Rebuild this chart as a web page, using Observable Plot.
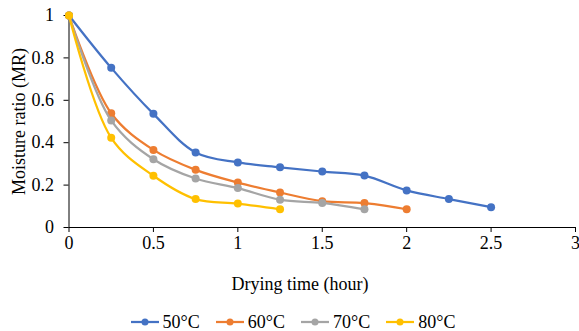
<!DOCTYPE html>
<html>
<head>
<meta charset="utf-8">
<script src="https://cdn.jsdelivr.net/npm/d3@7"></script>
<script src="https://cdn.jsdelivr.net/npm/@observablehq/plot@0.6"></script>
<style>
  html, body { margin: 0; padding: 0; background: #fff; }
  #wrap { position: relative; width: 579px; height: 331px; font-family: "Liberation Serif", "Times New Roman", serif; color: #000; }
  #chart svg text { font-family: "Liberation Serif", "Times New Roman", serif; font-variant: normal; }
  #xtitle { position: absolute; left: 0; width: 600px; top: 273px; text-align: center; font-size: 18px; line-height: 22px; }
  #legend { position: absolute; left: 0; width: 586px; top: 311px; display: flex; justify-content: center; font-size: 18px; line-height: 22px; }
  .item { display: flex; align-items: center; margin: 0 8px; }
  .item svg { margin-right: 4px; }
</style>
</head>
<body>
<div id="wrap">
  <div id="chart"></div>
  <div id="xtitle">Drying time (hour)</div>
  <div id="legend"></div>
</div>
<script>
const seriesNames = ["50°C", "60°C", "70°C", "80°C"];
const seriesColors = ["#4472C4", "#ED7D31", "#A5A5A5", "#FFC000"];

const time50 = [0, 0.25, 0.5, 0.75, 1, 1.25, 1.5, 1.75, 2, 2.25, 2.5];
const mr50   = [1, 0.753, 0.536, 0.354, 0.307, 0.284, 0.264, 0.245, 0.175, 0.134, 0.096];

const time60 = [0, 0.25, 0.5, 0.75, 1, 1.25, 1.5, 1.75, 2];
const mr60   = [1, 0.539, 0.366, 0.272, 0.212, 0.165, 0.124, 0.115, 0.086];

const time70 = [0, 0.25, 0.5, 0.75, 1, 1.25, 1.5, 1.75];
const mr70   = [1, 0.505, 0.322, 0.231, 0.186, 0.131, 0.116, 0.086];

const time80 = [0, 0.25, 0.5, 0.75, 1, 1.25];
const mr80   = [1, 0.423, 0.244, 0.134, 0.113, 0.086];

const xTicks = [0, 0.5, 1, 1.5, 2, 2.5, 3];
const yTicks = [0, 0.2, 0.4, 0.6, 0.8, 1];

const times = [time50, time60, time70, time80];
const mrs = [mr50, mr60, mr70, mr80];
const data = [];
seriesNames.forEach((s, i) => {
  times[i].forEach((t, j) => data.push({series: s, time: t, mr: mrs[i][j]}));
});

const font = "Liberation Serif";
const marks = [
  Plot.axisY(yTicks, {tickSize: 5, tickPadding: 10, tickFormat: d => String(d), label: null, fontSize: 18, fontFamily: font, fontVariant: "normal", stroke: "#000"}),
  Plot.axisX(xTicks, {tickSize: 5, tickPadding: 4, tickFormat: d => String(d), label: null, fontSize: 18, fontFamily: font, fontVariant: "normal", stroke: "#000"}),
  Plot.ruleX([0], {stroke: "#000", strokeWidth: 1}),
  Plot.ruleY([0], {stroke: "#000", strokeWidth: 1}),
  Plot.text(["Moisture ratio (MR)"], {frameAnchor: "left", textAnchor: "middle", lineAnchor: "middle", rotate: -90, dx: -50, fontSize: 18, fontFamily: font})
];
seriesNames.forEach((s, i) => {
  const d = data.filter(r => r.series === s);
  marks.push(Plot.line(d, {x: "time", y: "mr", stroke: seriesColors[i], strokeWidth: 2.25, curve: "catmull-rom"}));
  marks.push(Plot.dot(d, {x: "time", y: "mr", fill: seriesColors[i], r: 4}));
});

const chart = Plot.plot({
  width: 579,
  height: 331,
  marginLeft: 68.5,
  marginRight: 4,
  marginTop: 15,
  marginBottom: 104,
  style: {fontFamily: "Liberation Serif", fontSize: "18px", color: "#000", background: "#fff"},
  x: {domain: [0, 3]},
  y: {domain: [0, 1]},
  marks
});
chart.style.position = "absolute";
chart.style.left = "0";
chart.style.top = "0";
document.getElementById("chart").appendChild(chart);

const legend = document.getElementById("legend");
seriesNames.forEach((s, i) => {
  const item = document.createElement("div");
  item.className = "item";
  item.innerHTML = `<svg width="28" height="10"><line x1="0" y1="5" x2="28" y2="5" stroke="${seriesColors[i]}" stroke-width="2.25"/><circle cx="14" cy="5" r="3.5" fill="${seriesColors[i]}"/></svg><span>${s}</span>`;
  legend.appendChild(item);
});
</script>
</body>
</html>
